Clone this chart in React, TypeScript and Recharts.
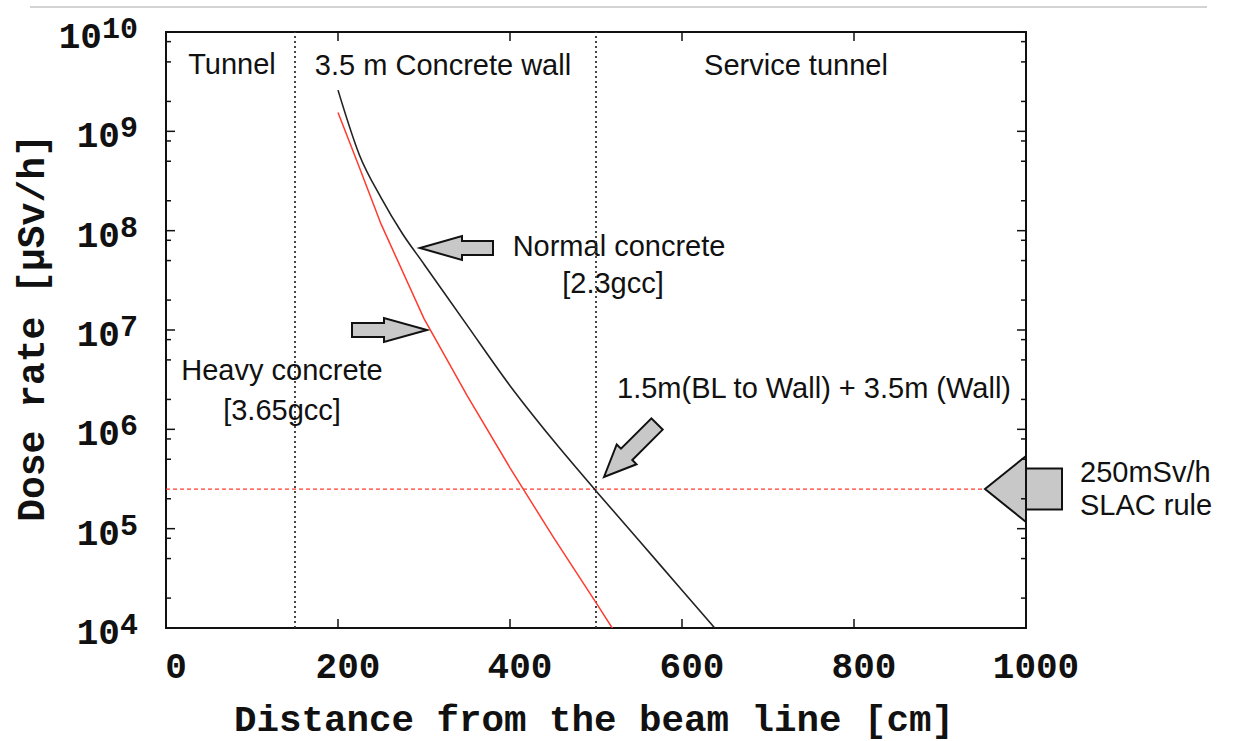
import React from 'react';
import { LineChart, Line, XAxis, YAxis, ReferenceLine, ReferenceArea, Customized } from 'recharts';

// distance from beam line [cm] and dose rate [uSv/h]
const distance = [200, 225, 250, 275, 300, 350, 400, 450, 500, 550, 600, 650];
const normalConcrete = [2.6e9, 5.75e8, 2.15e8, 9.3e7, 4.6e7, 1.12e7, 2.75e6, 7.8e5, 2.4e5, 7.6e4, 2.4e4, 7.6e3];
const heavyConcrete = [1.55e9, 4.3e8, 1.17e8, null, 1.3e7, 2.2e6, 4.1e5, 8.3e4, 1.8e4, 3.8e3, null, null];

const xTicks = [0, 200, 400, 600, 800, 1000];
const yTicks = [
    1e4, 2e4, 5e4, 8e4, 1e5, 2e5, 5e5, 8e5, 1e6, 2e6, 5e6, 8e6, 1e7, 2e7, 5e7, 8e7,
    1e8, 2e8, 5e8, 8e8, 1e9, 2e9, 5e9, 8e9, 1e10,
];
const wallEdges = [150, 500];
const slacLimit = 2.5e5;

const W = 1234;
const H = 741;
const PLOT_LEFT = 166;
const PLOT_RIGHT = 1026;
const PLOT_TOP = 32;
const PLOT_BOTTOM = 628;

const MONO = '"Liberation Mono", "Courier New", monospace';
const SANS = '"Liberation Sans", Arial, Helvetica, sans-serif';
const INK = '#111';

const chartData = distance.map((d, i) => ({
    d,
    normal: normalConcrete[i],
    heavy: heavyConcrete[i],
}));

const renderYTick = (props: any) => {
    const { y, payload } = props;
    const v = payload.value as number;
    const exp = Math.round(Math.log10(v));
    const major = Math.abs(v - Math.pow(10, exp)) < v * 1e-6;
    const len = major ? 9 : 5;
    return (
        <g>
            <line x1={PLOT_LEFT} x2={PLOT_LEFT + len} y1={y} y2={y} stroke={INK} strokeWidth={1.5} />
            <line x1={PLOT_RIGHT} x2={PLOT_RIGHT - len} y1={y} y2={y} stroke={INK} strokeWidth={1.5} />
            {major && (
                <text x={138} y={y + 16} textAnchor="end" fontFamily={MONO} fontWeight={700} fontSize={36} fill={INK}>
                    10
                    <tspan dy={-10} fontSize={30}>{exp}</tspan>
                </text>
            )}
        </g>
    );
};

const renderXTick = (props: any) => {
    const { x, payload } = props;
    return (
        <g>
            <line x1={x} x2={x} y1={PLOT_BOTTOM} y2={PLOT_BOTTOM - 9} stroke={INK} strokeWidth={1.5} />
            <line x1={x} x2={x} y1={PLOT_TOP} y2={PLOT_TOP + 9} stroke={INK} strokeWidth={1.5} />
            <text x={x + 10} y={678} textAnchor="middle" fontFamily={MONO} fontWeight={700} fontSize={36} fill={INK}>
                {payload.value}
            </text>
        </g>
    );
};

// block arrow: tip point, direction (deg), total length, head length, head half-width, shaft half-width
const blockArrow = (tx: number, ty: number, deg: number, len: number, head: number, hh: number, sh: number) => {
    const a = (deg * Math.PI) / 180;
    const dx = Math.cos(a);
    const dy = Math.sin(a);
    const px = -dy;
    const py = dx;
    const pts = [
        [0, 0], [-head, hh], [-head, sh], [-len, sh], [-len, -sh], [-head, -sh], [-head, -hh],
    ].map(([u, v]) => `${(tx + u * dx + v * px).toFixed(1)},${(ty + u * dy + v * py).toFixed(1)}`);
    return <polygon points={pts.join(' ')} fill="#c8c8c8" stroke={INK} strokeWidth={2} strokeLinejoin="miter" />;
};

const Annotations = () => (
    <g>
        <line x1={30} x2={1207} y1={7} y2={7} stroke="#c4c4c4" strokeWidth={1.5} />
        <g fontFamily={SANS} fontSize={29} fill={INK} textAnchor="middle">
            <text x={232} y={74}>Tunnel</text>
            <text x={443} y={75}>3.5 m Concrete wall</text>
            <text x={796} y={75}>Service tunnel</text>
            <text x={619} y={256}>Normal concrete</text>
            <text x={613} y={293}>[2.3gcc]</text>
            <text x={282} y={380}>Heavy concrete</text>
            <text x={282} y={420}>[3.65gcc]</text>
            <text x={617} y={398} textAnchor="start">1.5m(BL to Wall) + 3.5m (Wall)</text>
            <text x={1080} y={482} textAnchor="start">250mSv/h</text>
            <text x={1080} y={515} textAnchor="start">SLAC rule</text>
        </g>
        {blockArrow(420, 248, 180, 73, 42, 12, 7)}
        {blockArrow(427, 330, 0, 75, 43, 12, 7)}
        {blockArrow(604, 477, 135, 75, 32, 14, 8)}
        {blockArrow(985, 489, 180, 77, 41, 33, 20.5)}
        <text
            x={594}
            y={731}
            textAnchor="middle"
            fontFamily={MONO}
            fontWeight={700}
            fontSize={37.5}
            fill={INK}
        >
            Distance from the beam line [cm]
        </text>
        <text
            x={44}
            y={328}
            textAnchor="middle"
            transform="rotate(-90, 44, 328)"
            fontFamily={MONO}
            fontWeight={700}
            fontSize={38}
            fill={INK}
        >
            Dose rate [µSv/h]
        </text>
    </g>
);

export default function App() {
    return (
        <div style={{ position: 'absolute', left: 0, top: 0, width: W, height: H, background: '#fff' }}>
            <LineChart width={W} height={H} data={chartData} margin={{ top: PLOT_TOP, right: W - PLOT_RIGHT, bottom: 0, left: 0 }}>
                <XAxis
                    dataKey="d"
                    type="number"
                    domain={[0, 1000]}
                    ticks={xTicks}
                    interval={0}
                    height={H - PLOT_BOTTOM}
                    axisLine={false}
                    tickLine={false}
                    tick={renderXTick}
                    allowDataOverflow
                />
                <YAxis
                    type="number"
                    scale="log"
                    domain={[1e4, 1e10]}
                    ticks={yTicks}
                    interval={0}
                    width={PLOT_LEFT}
                    axisLine={false}
                    tickLine={false}
                    tick={renderYTick}
                    allowDataOverflow
                />
                {wallEdges.map((x) => (
                    <ReferenceLine key={x} x={x} stroke="#333" strokeWidth={1.8} strokeDasharray="2 3" />
                ))}
                <ReferenceLine
                    segment={[{ x: 0, y: slacLimit }, { x: 952, y: slacLimit }]}
                    stroke="#ff3b2f"
                    strokeWidth={1.2}
                    strokeDasharray="4 3"
                />
                <Line
                    dataKey="heavy"
                    type="linear"
                    stroke="#ff3b2f"
                    strokeWidth={1.5}
                    dot={false}
                    connectNulls
                    isAnimationActive={false}
                />
                <Line
                    dataKey="normal"
                    type="monotone"
                    stroke="#222"
                    strokeWidth={1.6}
                    dot={false}
                    isAnimationActive={false}
                />
                <ReferenceArea
                    x1={0}
                    x2={1000}
                    y1={1e4}
                    y2={1e10}
                    fill="none"
                    fillOpacity={0}
                    stroke={INK}
                    strokeWidth={2}
                    ifOverflow="visible"
                />
                <Customized component={<Annotations />} />
            </LineChart>
        </div>
    );
}
